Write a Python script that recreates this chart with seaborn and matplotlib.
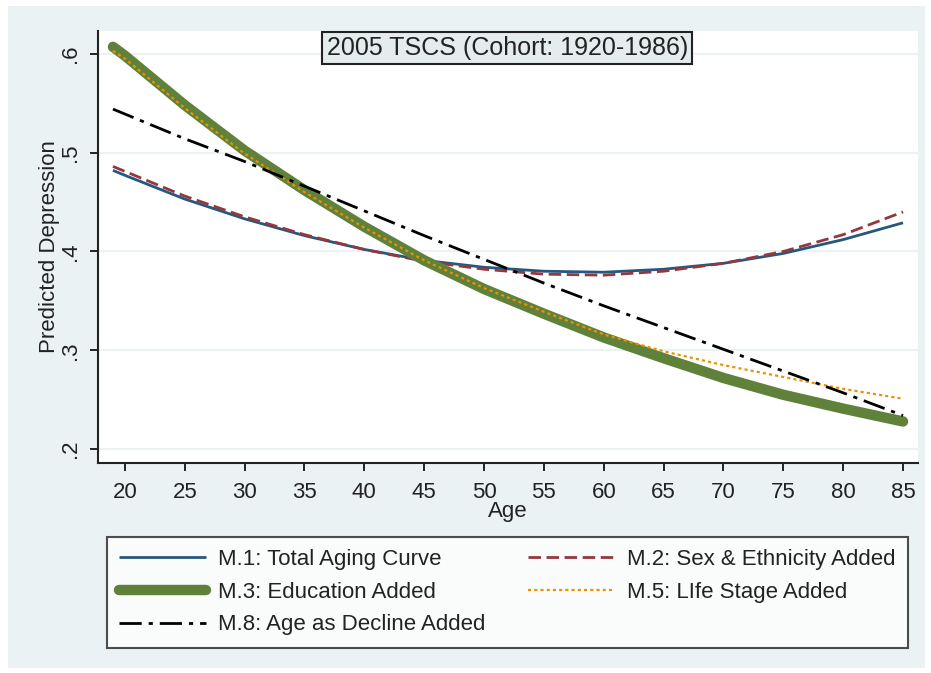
import pandas as pd
import matplotlib.pyplot as plt
import matplotlib.patches as mpatches
import seaborn as sns

# Valores (idade x depressão prevista)
idades = [19, 20, 25, 30, 35, 40, 45, 50, 55, 60, 65, 70, 75, 80, 85]
m1_total = [0.482, 0.477, 0.453, 0.433, 0.416, 0.402, 0.391, 0.384, 0.380, 0.379, 0.382, 0.388, 0.398, 0.412, 0.429]
m2_sexo = [0.486, 0.481, 0.456, 0.435, 0.417, 0.402, 0.390, 0.382, 0.377, 0.376, 0.380, 0.388, 0.400, 0.417, 0.440]
m3_educ = [0.607, 0.598, 0.548, 0.502, 0.462, 0.425, 0.391, 0.362, 0.337, 0.313, 0.292, 0.272, 0.255, 0.241, 0.228]
m5_vida = [0.603, 0.595, 0.545, 0.499, 0.460, 0.424, 0.391, 0.363, 0.339, 0.316, 0.299, 0.285, 0.273, 0.261, 0.251]
m8_declinio = [0.544, 0.539, 0.514, 0.491, 0.466, 0.441, 0.416, 0.392, 0.368, 0.345, 0.323, 0.301, 0.279, 0.257, 0.234]

rotulos = ['M.1: Total Aging Curve', 'M.2: Sex & Ethnicity Added', 'M.3: Education Added',
           'M.5: LIfe Stage Added', 'M.8: Age as Decline Added']
y_ticks = [0.2, 0.3, 0.4, 0.5, 0.6]
y_tick_labels = ['.2', '.3', '.4', '.5', '.6']
x_ticks = list(range(20, 90, 5))

df = pd.DataFrame({'Age': idades, 'M1': m1_total, 'M2': m2_sexo, 'M3': m3_educ,
                   'M5': m5_vida, 'M8': m8_declinio})

sns.set_style('white')
plt.rcParams['font.family'] = ['Liberation Sans', 'DejaVu Sans']

fundo = '#eaf2f3'
texto = '#222222'
fig = plt.figure(figsize=(9.31, 6.73), dpi=100, facecolor='white')
fig.patches.append(mpatches.Rectangle((8/931, 1-668/673), 917/931, 662/673,
                                      transform=fig.transFigure, facecolor=fundo,
                                      edgecolor='none', zorder=-10))
ax = fig.add_axes([98/931, 1-463/673, 820/931, 432/673])
ax.set_facecolor('white')

estilos = [
    ('M1', '#26587f', 2.0, None),
    ('M2', '#93383f', 2.0, (4.5, 2)),
    ('M3', '#5f8139', 7.5, None),
    ('M5', '#ea9200', 1.6, (1.4, 1.4)),
    ('M8', 'black', 2.0, (8, 2.5, 1.5, 2.5)),
]
linhas = []
for (col, cor, lw, dash), rot in zip(estilos, rotulos):
    sns.lineplot(x='Age', y=col, data=df, color=cor, linewidth=lw, ax=ax,
                 solid_capstyle='round' if col == 'M3' else 'butt')
    ln = ax.lines[-1]
    if dash is not None:
        ln.set_dashes(dash)
    ln.set_label(rot)
    linhas.append(ln)
if ax.get_legend() is not None:
    ax.get_legend().remove()

ax.set_xlim(17.75, 86.25)
ax.set_ylim(0.186, 0.623)
ax.set_xticks(x_ticks)
ax.set_yticks(y_ticks)
ax.set_yticklabels(y_tick_labels, rotation=90, va='center')
ax.tick_params(axis='both', direction='out', length=6, width=1.2, colors='black',
               labelsize=16, labelcolor=texto, left=True, bottom=True)
ax.tick_params(axis='x', pad=8)
ax.tick_params(axis='y', pad=6)
for g in y_ticks:
    ax.axhline(g, color=fundo, linewidth=1.5, zorder=0)

sns.despine(ax=ax)
for lado in ['left', 'bottom']:
    ax.spines[lado].set_linewidth(1.5)
    ax.spines[lado].set_color(texto)

ax.set_xlabel('Age', fontsize=16, labelpad=-2, color=texto)
ax.set_ylabel('Predicted Depression', fontsize=16, labelpad=0, color=texto)

ax.text(0.499, 0.961, '2005 TSCS (Cohort: 1920-1986)', transform=ax.transAxes,
        ha='center', va='center', fontsize=18, color=texto,
        bbox=dict(boxstyle='square,pad=0.17', facecolor='#e4ecee', edgecolor=texto, linewidth=1.5))

# ordem por linhas como no original
ordem = [0, 2, 4, 1, 3]
leg = fig.legend(handles=[linhas[i] for i in ordem], labels=[rotulos[i] for i in ordem],
                 ncol=2, loc='upper left',
                 bbox_to_anchor=(107/931, 1-537/673, 801/931, 0.0),
                 bbox_transform=fig.transFigure, mode='expand', fontsize=16,
                 handlelength=3.9, labelspacing=0.52, columnspacing=1.3,
                 handletextpad=0.55, borderpad=0.55, frameon=True, fancybox=False,
                 borderaxespad=0)
leg.get_frame().set_edgecolor(texto)
leg.get_frame().set_linewidth(1.5)
leg.get_frame().set_facecolor('white')
for t in leg.get_texts():
    t.set_color(texto)

plt.savefig('out.png', dpi=100, facecolor='white')
